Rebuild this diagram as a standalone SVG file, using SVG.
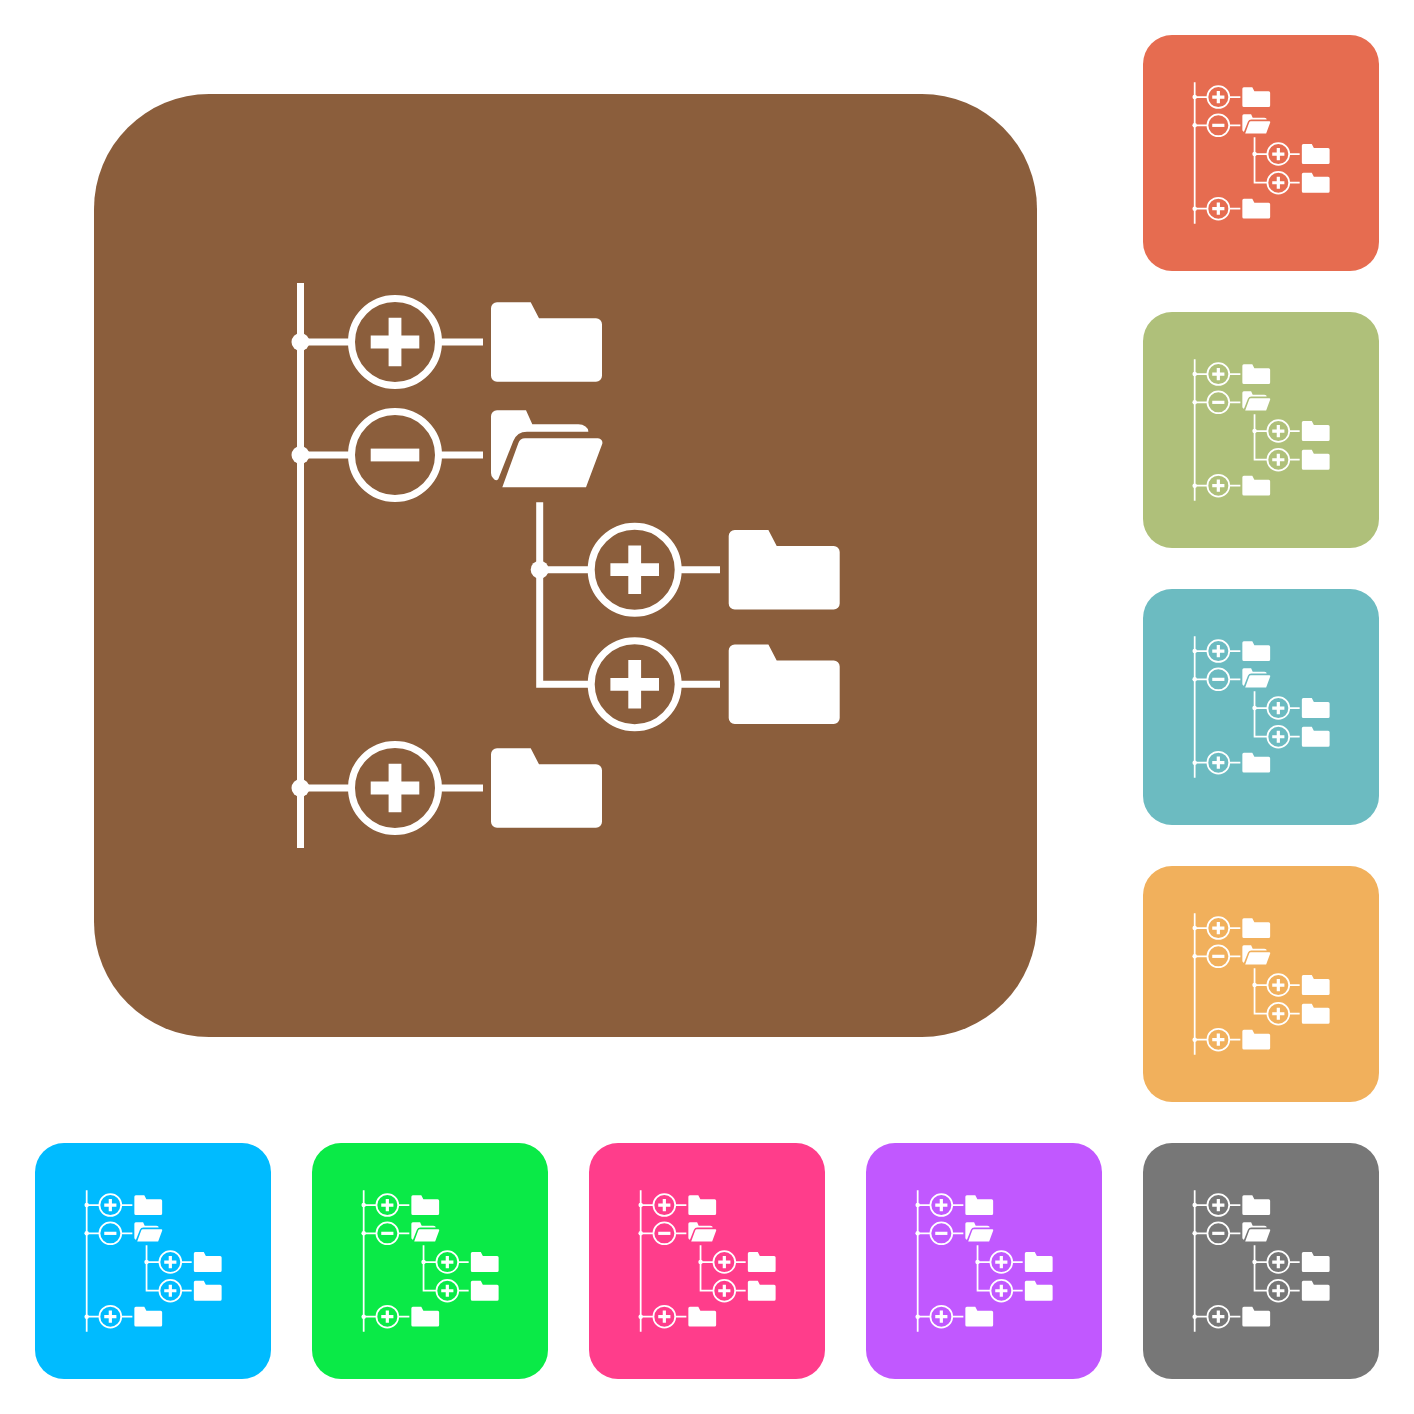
<svg xmlns="http://www.w3.org/2000/svg" xmlns:xlink="http://www.w3.org/1999/xlink" width="1414" height="1414" viewBox="0 0 1414 1414">
<style>
.ln{fill:none;stroke:#fff;stroke-width:7}
.fl{fill:#fff}
</style>
<defs>
<path id="folder" class="fl" d="M0,-33.7a6,6 0 0 1 6,-6H39.7L48,-23.7H105a6,6 0 0 1 6,6V33.7a6,6 0 0 1 -6,6H6a6,6 0 0 1 -6,-6Z"/>
<path id="plus" class="fl" d="M-6.4,-24.3H6.4V-6.4H24.3V6.4H6.4V24.3H-6.4V6.4H-24.3V-6.4H-6.4Z"/>
<circle id="ring" class="ln" r="43.5"/>
<g id="icon">
<g class="ln">
<path d="M300.5,283V848M300.5,342H352M300.5,455H352M300.5,788H352M438,342H483M438,455H483M438,788H483"/>
<path d="M539.7,502.3V684.3H592M539.7,569.7H592M677,569.7H720M677,684.3H720"/>
</g>
<g class="fl">
<circle cx="300.5" cy="342" r="9"/>
<circle cx="300.5" cy="455" r="9"/>
<circle cx="300.5" cy="788" r="9"/>
<circle cx="539.7" cy="569.7" r="9"/>
</g>
<use href="#ring" x="395" y="342"/><use href="#plus" x="395" y="342"/>
<use href="#ring" x="395" y="455"/><rect class="fl" x="370.7" y="448.6" width="48.6" height="12.8"/>
<use href="#ring" x="395" y="788"/><use href="#plus" x="395" y="788"/>
<use href="#ring" x="634.7" y="569.7"/><use href="#plus" x="634.7" y="569.7"/>
<use href="#ring" x="634.7" y="684.3"/><use href="#plus" x="634.7" y="684.3"/>
<use href="#folder" x="491" y="342"/>
<use href="#folder" x="491" y="788"/>
<use href="#folder" x="728.7" y="569.7"/>
<use href="#folder" x="728.7" y="684.3"/>
<path class="fl" d="M491,416.3a6,6 0 0 1 6,-6H526L532.3,424.3H578a10,7 0 0 1 10.3,7.4H527Q517,431.7 513.3,441L498.3,479Q496,482 493,478Q491,476 491,473Z"/>
<path class="fl" d="M525,438.3H598a4.5,4.5 0 0 1 4.3,5.5L586,487.3H502.3L518.3,443.3Q520,438.3 525,438.3Z"/>
</g>
</defs>
<rect width="1414" height="1414" fill="#fff"/>
<g id="main-tile">
<rect x="94" y="94" width="943" height="943" rx="115" fill="#8b5e3c"/>
<use href="#icon"/>
</g>
<g id="tile-red"><rect x="1143" y="35" width="236" height="236" rx="29" fill="#e66c50"/><use href="#icon" transform="translate(1143 35) scale(.25027) translate(-94 -94)"/></g>
<g id="tile-olive"><rect x="1143" y="312" width="236" height="236" rx="29" fill="#afc07a"/><use href="#icon" transform="translate(1143 312) scale(.25027) translate(-94 -94)"/></g>
<g id="tile-teal"><rect x="1143" y="589" width="236" height="236" rx="29" fill="#6cbbc1"/><use href="#icon" transform="translate(1143 589) scale(.25027) translate(-94 -94)"/></g>
<g id="tile-orange"><rect x="1143" y="866" width="236" height="236" rx="29" fill="#f1b05c"/><use href="#icon" transform="translate(1143 866) scale(.25027) translate(-94 -94)"/></g>
<g id="tile-blue"><rect x="35" y="1143" width="236" height="236" rx="29" fill="#00bbff"/><use href="#icon" transform="translate(35 1143) scale(.25027) translate(-94 -94)"/></g>
<g id="tile-green"><rect x="312" y="1143" width="236" height="236" rx="29" fill="#0aea47"/><use href="#icon" transform="translate(312 1143) scale(.25027) translate(-94 -94)"/></g>
<g id="tile-pink"><rect x="589" y="1143" width="236" height="236" rx="29" fill="#ff3d8b"/><use href="#icon" transform="translate(589 1143) scale(.25027) translate(-94 -94)"/></g>
<g id="tile-purple"><rect x="866" y="1143" width="236" height="236" rx="29" fill="#c158ff"/><use href="#icon" transform="translate(866 1143) scale(.25027) translate(-94 -94)"/></g>
<g id="tile-grey"><rect x="1143" y="1143" width="236" height="236" rx="29" fill="#777777"/><use href="#icon" transform="translate(1143 1143) scale(.25027) translate(-94 -94)"/></g>
</svg>
